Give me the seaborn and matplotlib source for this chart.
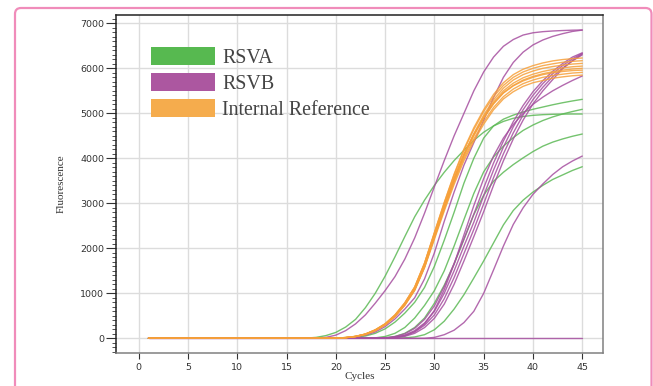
import numpy as np
import pandas as pd
import matplotlib
matplotlib.use("Agg")
import matplotlib.pyplot as plt
import seaborn as sns
from matplotlib.patches import Patch, FancyBboxPatch
from matplotlib.ticker import MultipleLocator

# amplification curves, fluorescence per cycle
cycles = list(range(1, 46))
lead = [0] * 15  # cycles 1-15 flat baseline, lists below start at cycle 16

rsva = [
    [0, 5, 20, 60, 130, 250, 420, 680, 1000, 1380, 1810, 2260, 2700, 3070, 3400,
     3690, 3950, 4180, 4400, 4580, 4720, 4820, 4890, 4930, 4955, 4970, 4978, 4983, 4985, 4985],
    [0, 0, 0, 0, 5, 10, 20, 50, 110, 210, 360, 560, 800, 1130, 1600,
     2180, 2800, 3450, 4000, 4450, 4720, 4870, 4960, 5030, 5090, 5140, 5190, 5235, 5275, 5311],
    [0, 0, 0, 0, 0, 0, 0, 5, 10, 40, 110, 240, 450, 730, 1060,
     1500, 2050, 2640, 3220, 3700, 4030, 4270, 4460, 4620, 4740, 4840, 4920, 4985, 5040, 5089],
    [0, 0, 0, 0, 0, 0, 0, 0, 5, 10, 40, 110, 240, 450, 780,
     1180, 1650, 2200, 2750, 3180, 3490, 3690, 3860, 4010, 4150, 4270, 4360, 4430, 4490, 4540],
    [0, 0, 0, 0, 0, 0, 0, 0, 0, 0, 0, 10, 30, 80, 190,
     380, 650, 970, 1340, 1720, 2120, 2520, 2840, 3070, 3250, 3400, 3530, 3630, 3730, 3813],
]

rsvb = [
    [0, 0, 5, 20, 70, 170, 320, 520, 780, 1060, 1370, 1760, 2230, 2780, 3370,
     3950, 4500, 5000, 5500, 5920, 6250, 6490, 6640, 6740, 6790, 6815, 6830, 6840, 6848, 6852],
    [0, 0, 0, 0, 0, 10, 30, 70, 140, 260, 430, 650, 900, 1320, 1900,
     2600, 3250, 3850, 4350, 4850, 5350, 5800, 6130, 6360, 6520, 6630, 6710, 6770, 6820, 6850],
    [0, 0, 0, 0, 0, 0, 0, 0, 0, 10, 38, 100, 220, 420, 720,
     1150, 1665, 2210, 2760, 3340, 3895, 4385, 4815, 5175, 5480, 5725, 5935, 6105, 6250, 6345],
    [0, 0, 0, 0, 0, 0, 0, 0, 0, 5, 25, 70, 170, 340, 600,
     1000, 1500, 2050, 2580, 3170, 3740, 4250, 4700, 5080, 5400, 5660, 5880, 6060, 6210, 6333],
    [0, 0, 0, 0, 0, 0, 0, 0, 0, 3, 19, 55, 140, 290, 520,
     880, 1350, 1885, 2420, 2990, 3570, 4100, 4565, 4965, 5305, 5580, 5815, 6005, 6165, 6300],
    [0, 0, 0, 0, 0, 0, 0, 0, 0, 2, 13, 43, 110, 238, 444,
     760, 1200, 1720, 2260, 2815, 3400, 3945, 4430, 4850, 5210, 5500, 5750, 5990, 6170, 6320],
    [0, 0, 0, 0, 0, 0, 0, 0, 0, 0, 20, 60, 150, 320, 620,
     1080, 1650, 2300, 2950, 3550, 4050, 4450, 4750, 5000, 5200, 5360, 5500, 5620, 5730, 5830],
    [0, 0, 0, 0, 0, 0, 0, 0, 0, 0, 0, 0, 0, 0, 20,
     80, 180, 350, 600, 1000, 1520, 2050, 2530, 2900, 3200, 3430, 3640, 3810, 3940, 4050],
    [0] * 30,
]

internal_ref = [
    [0, 0, 0, 0, 5, 14, 39, 87, 174, 300, 484, 735, 1064, 1570, 2200,
     2830, 3420, 3950, 4380, 4760, 5080, 5320, 5480, 5600, 5680, 5730, 5780, 5810, 5835, 5850],
    [0, 0, 0, 0, 5, 15, 40, 90, 178, 305, 492, 748, 1080, 1590, 2240,
     2870, 3470, 4000, 4430, 4810, 5130, 5370, 5540, 5660, 5740, 5800, 5840, 5870, 5895, 5910],
    [0, 0, 0, 0, 6, 16, 43, 95, 188, 322, 520, 790, 1140, 1670, 2330,
     2970, 3570, 4100, 4530, 4900, 5220, 5450, 5610, 5720, 5800, 5860, 5900, 5930, 5950, 5960],
    [0, 0, 0, 0, 5, 15, 40, 89, 178, 306, 494, 752, 1090, 1600, 2260,
     2910, 3510, 4050, 4500, 4890, 5210, 5460, 5620, 5740, 5820, 5880, 5925, 5960, 5985, 6000],
    [0, 0, 0, 0, 5, 15, 40, 90, 180, 310, 500, 760, 1100, 1620, 2280,
     2930, 3540, 4080, 4530, 4920, 5250, 5500, 5670, 5790, 5870, 5930, 5975, 6010, 6035, 6050],
    [0, 0, 0, 0, 4, 13, 36, 83, 168, 295, 480, 735, 1070, 1580, 2240,
     2900, 3520, 4080, 4550, 4960, 5300, 5560, 5740, 5860, 5940, 6000, 6040, 6070, 6095, 6110],
    [0, 0, 0, 0, 5, 15, 41, 92, 184, 318, 512, 780, 1130, 1660, 2340,
     3010, 3630, 4180, 4640, 5040, 5370, 5620, 5800, 5920, 6000, 6060, 6100, 6135, 6155, 6170],
    [0, 0, 0, 0, 5, 16, 42, 94, 186, 320, 515, 785, 1135, 1670, 2350,
     3020, 3650, 4210, 4680, 5080, 5420, 5680, 5860, 5980, 6060, 6120, 6165, 6195, 6215, 6230],
]

targets = ["RSVA", "RSVB", "Internal Reference"]
patch_colors = ["#57b950", "#ac57a0", "#f5ac4d"]
line_colors = ["#5cb955", "#a64fa0", "#f6a03a"]

rows = []
for name, group in zip(targets, [rsva, rsvb, internal_ref]):
    for i, vals in enumerate(group):
        for c, v in zip(cycles, lead + vals):
            rows.append((name, f"{name} {i}", c, v))
df = pd.DataFrame(rows, columns=["target", "well", "cycle", "fluorescence"])

sns.set_style("white")
plt.rcParams["font.family"] = ["DejaVu Sans"]
serif = ["Liberation Serif", "DejaVu Serif"]

fig = plt.figure(figsize=(6.53, 3.86), dpi=100)
ax = fig.add_axes([0.1776, 0.0855, 0.7458, 0.8756])

# pink card border
fig.patches.append(FancyBboxPatch((0.15, -0.3), 6.365, 4.08,
                                  boxstyle="round,pad=0,rounding_size=0.06",
                                  transform=fig.dpi_scale_trans, fill=False,
                                  edgecolor="#f08cba", lw=1.6))

for name in ["RSVA", "RSVB", "Internal Reference"]:
    k = targets.index(name)
    sns.lineplot(data=df[df["target"] == name], x="cycle", y="fluorescence",
                 units="well", estimator=None, color=line_colors[k], lw=1.0,
                 alpha=0.85, legend=False, ax=ax)

ax.set_xlim(-2.3, 47.1)
ax.set_ylim(-327, 7185)
ax.xaxis.set_major_locator(MultipleLocator(5))
ax.yaxis.set_major_locator(MultipleLocator(1000))
ax.yaxis.set_minor_locator(MultipleLocator(100))
ax.grid(True, which="major", color="#dcdcdc", lw=1.0)
ax.set_axisbelow(True)

for side in ["top", "left"]:
    ax.spines[side].set_color("#222222")
    ax.spines[side].set_linewidth(1.1)
for side in ["right", "bottom"]:
    ax.spines[side].set_color("#808080")
    ax.spines[side].set_linewidth(1.1)

ax.tick_params(axis="y", which="both", left=True, direction="out")
ax.tick_params(axis="x", which="major", bottom=True, direction="out")
ax.tick_params(axis="y", which="major", length=7, width=0.8, color="#333333",
               labelsize=6.8, labelcolor="#333333", pad=1.5)
ax.tick_params(axis="y", which="minor", length=3, width=0.6, color="#333333")
ax.tick_params(axis="x", which="major", length=4.5, width=0.8, color="#333333",
               labelsize=6.8, labelcolor="#333333", pad=3)

ax.set_xlabel("Cycles", family=serif, fontsize=8, color="#333333", labelpad=0)
ax.set_ylabel("Fluorescence", family=serif, fontsize=8, color="#333333", labelpad=10)

handles = [Patch(facecolor=c, edgecolor="none") for c in patch_colors]
ax.legend(handles, targets, loc="upper left", bbox_to_anchor=(0.072, 0.905),
          frameon=False, handlelength=3.2, handleheight=1.0, labelspacing=0.25,
          handletextpad=0.35, borderpad=0, borderaxespad=0,
          prop={"family": serif, "size": 14.4}, labelcolor="#444444")

fig.savefig("out.png", dpi=100)
